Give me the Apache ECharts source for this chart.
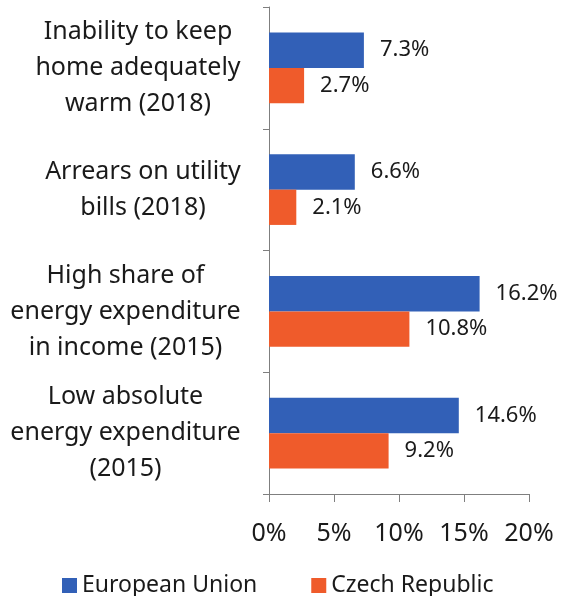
<!DOCTYPE html>
<html>
<head>
<meta charset="utf-8">
<script src="https://cdn.jsdelivr.net/npm/echarts@6/dist/echarts.min.js"></script>
<style>
  html, body { margin: 0; padding: 0; background: #fff; }
  #chart { width: 570px; height: 596px; }
</style>
</head>
<body>
<div id="chart"></div>
<script>
const categories = [
  "Inability to keep\nhome adequately\nwarm (2018)",
  "Arrears on utility\nbills (2018)",
  "High share of\nenergy expenditure\nin income (2015)",
  "Low absolute\nenergy expenditure\n(2015)"
];
const seriesNames = ["European Union", "Czech Republic"];
const euValues = [7.3, 6.6, 16.2, 14.6];
const czValues = [2.7, 2.1, 10.8, 9.2];
const xTicks = [0, 5, 10, 15, 20];

const font = "'Noto Sans', 'Open Sans', sans-serif";
const catFontSize = 25;
const chart = echarts.init(document.getElementById("chart"));

// lines of each category label are centred on each other, the block is right aligned
const ctx = document.createElement("canvas").getContext("2d");
ctx.font = catFontSize + "px " + font;
const rich = {};
categories.forEach((c, i) => {
  const w = Math.max(...c.split("\n").map((l) => ctx.measureText(l).width));
  rich["c" + i] = { width: Math.ceil(w), align: "center", fontSize: catFontSize, lineHeight: 36, color: "#1a1a1a", fontFamily: font };
});

const barLabel = {
  show: true,
  position: "right",
  distance: 16,
  fontSize: 22,
  fontFamily: font,
  color: "#1a1a1a",
  formatter: (p) => p.value.toFixed(1) + "%"
};

const option = {
  animation: false,
  textStyle: { fontFamily: font },
  grid: { left: 269, right: 41, top: 7, bottom: 102, containLabel: false },
  legend: {
    top: 569,
    left: 57,
    itemWidth: 15,
    itemHeight: 15,
    itemGap: 54,
    icon: "rect",
    textStyle: { fontSize: 23, color: "#1a1a1a", fontFamily: font },
    data: seriesNames
  },
  xAxis: {
    type: "value",
    min: xTicks[0],
    max: xTicks[xTicks.length - 1],
    interval: 5,
    splitLine: { show: false },
    axisLine: { show: true, lineStyle: { color: "#7f7f7f", width: 1 } },
    axisTick: { show: true, length: 8, lineStyle: { color: "#7f7f7f" } },
    axisLabel: {
      fontSize: 25,
      color: "#1a1a1a",
      margin: 27,
      fontFamily: font,
      formatter: (v) => v + "%"
    }
  },
  yAxis: {
    type: "category",
    inverse: true,
    data: categories,
    axisLine: { show: true, lineStyle: { color: "#7f7f7f", width: 1 } },
    axisTick: { show: true, length: 6, lineStyle: { color: "#7f7f7f" } },
    axisLabel: {
      fontSize: catFontSize,
      lineHeight: 36,
      color: "#1a1a1a",
      align: "right",
      margin: 28,
      fontFamily: font,
      rich: rich,
      formatter: (v, i) => v.split("\n").map((l) => "{c" + i + "|" + l + "}").join("\n")
    }
  },
  series: [
    {
      name: seriesNames[0],
      type: "bar",
      data: euValues,
      barGap: "0%",
      barCategoryGap: "42%",
      itemStyle: { color: "#3260b7" },
      label: barLabel
    },
    {
      name: seriesNames[1],
      type: "bar",
      data: czValues,
      itemStyle: { color: "#ef5b2b" },
      label: barLabel
    }
  ]
};

chart.setOption(option);
window.onresize = () => chart.resize();
</script>
</body>
</html>
